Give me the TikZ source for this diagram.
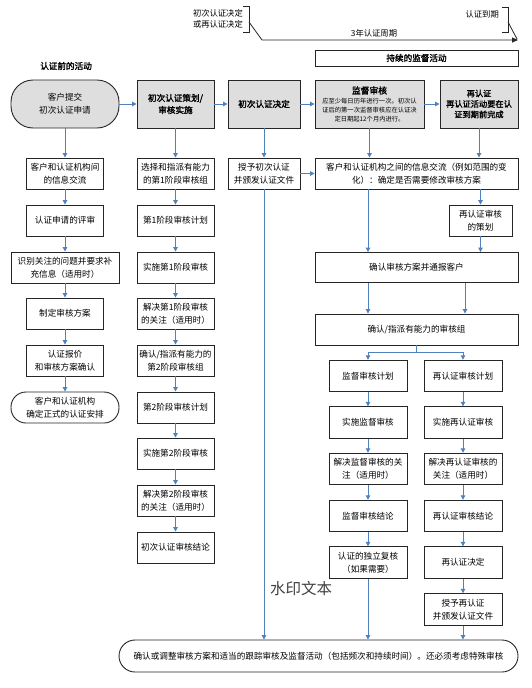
\documentclass[tikz,border=0pt]{standalone}
\usepackage{fontspec}
\setmainfont{Noto Sans CJK SC}[AutoFakeBold=2]
\usetikzlibrary{arrows.meta}
\definecolor{arr}{HTML}{4F81BD}
\definecolor{boxgray}{HTML}{DEDEDE}
\begin{document}
\begin{tikzpicture}[x=1pt,y=-1pt,
  txt/.style={font=\fontsize{8.6}{13}\selectfont},
  box/.style={draw=black!85, line width=0.9pt, align=center, inner sep=1pt, fill=white, txt},
  bw/.style={box, minimum width=77pt, minimum height=31pt},
  ww/.style={box, minimum width=203pt, minimum height=31pt},
  sw/.style={box, minimum width=78pt, minimum height=31.5pt},
  topbox/.style={box, fill=boxgray, minimum height=48pt, font=\fontsize{8.6}{12}\selectfont\bfseries},
  ar/.style={draw=arr, line width=1pt, -{Triangle[length=4.5pt,width=4.5pt]}},
  ln/.style={draw=arr, line width=1pt},
  blk/.style={draw=black!85, line width=0.8pt},
]
\useasboundingbox (0,0) rectangle (531,688);

% timeline
\node[font=\fontsize{8.3}{11}\selectfont, align=right, anchor=east, inner sep=0pt] (tla) at (243,18.5) {初次认证决定\\或再认证决定};
\draw[blk] (243,6) -- (249,6) -- (249,32) -- (243,32);
\draw[blk, -{Triangle[length=6pt,width=5pt]}] (249,22) -- (262,40) -- (518,40);
\node[font=\fontsize{8.3}{11}\selectfont, inner sep=0pt] (tlb) at (374,33) {3年认证周期};
\node[font=\fontsize{8.3}{11}\selectfont, anchor=east, inner sep=0pt] (tlc) at (499,14.5) {认证到期};
\draw[blk] (502,7) -- (508,7) -- (508,32) -- (502,32);
\draw[blk] (508,22) -- (517,39);

\node[box, minimum width=203pt, minimum height=16pt, font=\fontsize{8.6}{11}\selectfont\bfseries] (cx) at (416.5,58) {持续的监督活动};
\node[font=\fontsize{8.6}{11}\selectfont\bfseries, inner sep=0pt] (pre) at (66,66) {认证前的活动};

% top row
\node[topbox, rounded corners=22pt, minimum width=108pt, font=\fontsize{8.6}{13}\selectfont] (n1) at (65,104) {客户提交\\初次认证申请};
\node[topbox, minimum width=77pt] (n2) at (175.5,104) {初次认证策划/\\审核实施};
\node[topbox, minimum width=72pt] (n3) at (264,104) {初次认证决定};
\node[topbox, minimum width=109pt, font=\fontsize{6.3}{8.6}\selectfont] (n4) at (369.5,104) {{\fontsize{8.8}{9}\selectfont\bfseries 监督审核}\\[1.5pt]应至少每日历年进行一次。初次认\\证后的第一次监督审核应在认证决\\定日期起12个月内进行。};
\node[topbox, minimum width=78pt, font=\fontsize{8.2}{10.5}\selectfont\bfseries] (n5) at (479,104) {再认证\\再认证活动要在认\\证到期前完成};

% left column
\node[bw] (a1) at (65,173.5) {客户和认证机构间\\的信息交流};
\node[bw] (a2) at (65,220.5) {认证申请的评审};
\node[bw, minimum width=108pt] (a3) at (65,267.5) {识别关注的问题并要求补\\充信息（适用时）};
\node[bw] (a4) at (65,313.5) {制定审核方案};
\node[bw] (a5) at (65,360.5) {认证报价\\和审核方案确认};
\node[bw, minimum width=108pt, rounded corners=15pt] (a6) at (65,407.5) {客户和认证机构\\确定正式的认证安排};

% second column
\node[bw] (b0) at (175.5,173.5) {选择和指派有能力\\的第1阶段审核组};
\node[bw] (b1) at (175.5,220.5) {第1阶段审核计划};
\node[bw] (b2) at (175.5,267.5) {实施第1阶段审核};
\node[bw] (b3) at (175.5,313.5) {解决第1阶段审核\\的关注（适用时）};
\node[bw] (b4) at (175.5,360.5) {确认/指派有能力的\\第2阶段审核组};
\node[bw] (b5) at (175.5,407.5) {第2阶段审核计划};
\node[bw] (b6) at (175.5,453.5) {实施第2阶段审核};
\node[bw] (b7) at (175.5,500.5) {解决第2阶段审核\\的关注（适用时）};
\node[bw] (b8) at (175.5,547.5) {初次认证审核结论};

% third column
\node[bw, minimum width=72pt] (c0) at (264,173.5) {授予初次认证\\并颁发认证文件};

% right part
\node[ww] (w1) at (416.5,173.5) {客户和认证机构之间的信息交流（例如范围的变\\化）：确定是否需要修改审核方案};
\node[bw, minimum width=63pt] (r1) at (480.5,220.5) {再认证审核\\的策划};
\node[ww, minimum height=30pt] (w2) at (416.5,267.5) {确认审核方案并通报客户};
\node[ww] (w3) at (416.5,329.5) {确认/指派有能力的审核组};

\node[sw] (s1) at (368,376) {监督审核计划};
\node[sw] (s2) at (368,422.5) {实施监督审核};
\node[sw] (s3) at (368,469) {解决监督审核的关\\注（适用时）};
\node[sw] (s4) at (368,516) {监督审核结论};
\node[sw] (s5) at (368,562.5) {认证的独立复核\\（如果需要）};

\node[sw] (t1) at (463,376) {再认证审核计划};
\node[sw] (t2) at (463,422.5) {实施再认证审核};
\node[sw] (t3) at (463,469) {解决再认证审核的\\关注（适用时）};
\node[sw] (t4) at (463,516) {再认证审核结论};
\node[sw] (t5) at (463,562.5) {再认证决定};
\node[sw] (t6) at (463,609.5) {授予再认证\\并颁发认证文件};

\node[box, minimum width=399pt, minimum height=32pt, rounded corners=16pt] (bot) at (318.5,656) {确认或调整审核方案和适当的跟踪审核及监督活动（包括频次和持续时间）。还必须考虑特殊审核};

\node[font=\fontsize{15.5}{16}\selectfont, text=black!75, inner sep=0pt] (wm) at (301,589) {水印文本};

% connectors
\coordinate (xl) at (368,0);
\coordinate (xr) at (465,0);
\coordinate (jct) at (416.5,352);

\draw[ar] (n1) -- (n2);
\draw[ar] (n2) -- (n3);
\draw[ar] (n3) -- (n4);
\draw[ar] (n4) -- (n5);

\draw[ar] (n1.south) -- (a1.north);
\draw[ar] (a1) -- (a2);
\draw[ar] (a2) -- (a3);
\draw[ar] (a3) -- (a4);
\draw[ar] (a4) -- (a5);
\draw[ar] (a5) -- (a6);

\draw[ar] (n2) -- (b0);
\draw[ar] (b0) -- (b1);
\draw[ar] (b1) -- (b2);
\draw[ar] (b2) -- (b3);
\draw[ar] (b3) -- (b4);
\draw[ar] (b4) -- (b5);
\draw[ar] (b5) -- (b6);
\draw[ar] (b6) -- (b7);
\draw[ar] (b7) -- (b8);

\draw[ar] (n3) -- (c0);
\draw[ar] (c0) -- (w1);
\draw[ar] (c0.south) -- (c0.south |- bot.north);

\draw[ar] (n4.south) -- (n4.south |- w1.north);
\draw[ar] (n5.south) -- (n5.south |- w1.north);
\draw[ar] (w1.south -| r1) -- (r1.north);
\draw[ar] (r1.south) -- (r1.south |- w2.north);
\draw[ar] (w1.south -| xl) -- (w2.north -| xl);
\draw[ar] (w2.south -| xl) -- (w3.north -| xl);
\draw[ar] (w2.south -| xr) -- (w3.north -| xr);

\draw[ln] (w3.south) -- (jct);
\draw[ar] (jct) -| (s1.north);
\draw[ar] (jct) -| (t1.north);

\draw[ar] (s1) -- (s2);
\draw[ar] (s2) -- (s3);
\draw[ar] (s3) -- (s4);
\draw[ar] (s4) -- (s5);
\draw[ar] (s5.south) -- (s5.south |- bot.north);

\draw[ar] (t1) -- (t2);
\draw[ar] (t2) -- (t3);
\draw[ar] (t3) -- (t4);
\draw[ar] (t4) -- (t5);
\draw[ar] (t5) -- (t6);
\draw[ar] (t6.south) -- (t6.south |- bot.north);
\end{tikzpicture}
\end{document}
